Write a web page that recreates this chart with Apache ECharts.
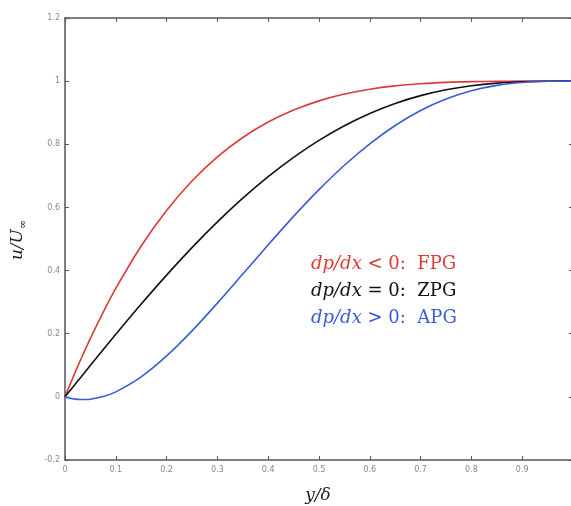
<!DOCTYPE html>
<html>
<head>
<meta charset="utf-8">
<script src="https://cdn.jsdelivr.net/npm/echarts@6/dist/echarts.min.js"></script>
<style>
  html, body { margin: 0; padding: 0; background: #fff; overflow: hidden; }
  #chart { width: 571px; height: 506px; }
</style>
</head>
<body>
<div id="chart"></div>
<script>
// Wall-normal positions y/delta
const eta = [0, 0.01, 0.02, 0.03, 0.05, 0.075, 0.1, 0.15, 0.2, 0.25, 0.3, 0.35, 0.4, 0.45,
             0.5, 0.55, 0.6, 0.65, 0.7, 0.75, 0.8, 0.85, 0.9, 0.95, 1.0];

// Velocity profiles u/U_inf
const fpg = [0, 0.0394, 0.0776, 0.1147, 0.1855, 0.2679, 0.3439, 0.4780, 0.5904, 0.6836, 0.7599,
             0.8215, 0.8704, 0.9085, 0.9375, 0.9590, 0.9744, 0.9850, 0.9919, 0.9961, 0.9984,
             0.9995, 0.9999, 1.0, 1.0];
const zpg = [0, 0.0200, 0.0400, 0.0599, 0.0998, 0.1492, 0.1981, 0.2938, 0.3856, 0.4727, 0.5541,
             0.6293, 0.6976, 0.7588, 0.8125, 0.8588, 0.8976, 0.9293, 0.9541, 0.9727, 0.9856,
             0.9938, 0.9981, 0.9998, 1.0];
const apg = [0, -0.0043, -0.0071, -0.0085, -0.0074, 0.0008, 0.0159, 0.0635, 0.1296, 0.2090, 0.2969,
             0.3890, 0.4816, 0.5716, 0.6563, 0.7335, 0.8016, 0.8596, 0.9069, 0.9434, 0.9696,
             0.9866, 0.9959, 0.9995, 1.0];

const xTicks = { min: 0, max: 1, interval: 0.1 };
const yTicks = { min: -0.2, max: 1.2, interval: 0.2 };

const RED = '#dc3a3a';
const BLACK = '#111111';
const BLUE = '#3a5ad8';

const pairs = vals => eta.map((x, i) => [x, vals[i]]);

const axisLine = { show: true, onZero: false, lineStyle: { color: '#555', width: 1.5 } };
const axisTick = { show: true, inside: true, length: 4, lineStyle: { color: '#555', width: 1 } };
const tickLabel = { fontSize: 8, color: '#888', fontFamily: 'DejaVu Sans' };

const chart = echarts.init(document.getElementById('chart'), null, { renderer: 'canvas' });

chart.setOption({
  animation: false,
  backgroundColor: '#fff',
  // the plot box runs slightly past the right edge of the canvas
  grid: { left: 65, top: 18, width: 508, bottom: 46, outerBoundsMode: 'none', containLabel: false },
  xAxis: [
    { type: 'value', position: 'bottom', ...xTicks, axisLine, axisTick,
      splitLine: { show: false },
      axisLabel: { ...tickLabel, margin: 6, showMaxLabel: false,
        formatter: v => (v >= 0.999 ? '' : String(+v.toFixed(1))) } },
    { type: 'value', position: 'top', ...xTicks, axisLine, axisTick,
      splitLine: { show: false }, axisLabel: { show: false } }
  ],
  yAxis: [
    { type: 'value', position: 'left', ...yTicks, axisLine, axisTick,
      splitLine: { show: false },
      axisLabel: { ...tickLabel, margin: 5,
        formatter: v => String(+v.toFixed(1)) } },
    { type: 'value', position: 'right', ...yTicks, axisLine, axisTick,
      splitLine: { show: false }, axisLabel: { show: false } }
  ],
  series: [
    { type: 'line', name: 'FPG', data: pairs(fpg), showSymbol: false, smooth: 0.3,
      lineStyle: { color: RED, width: 1.6 } },
    { type: 'line', name: 'ZPG', data: pairs(zpg), showSymbol: false, smooth: 0.3,
      lineStyle: { color: BLACK, width: 1.6 } },
    { type: 'line', name: 'APG', data: pairs(apg), showSymbol: false, smooth: 0.3,
      lineStyle: { color: BLUE, width: 1.6 } }
  ],
  graphic: [
    // y-axis title u/U_inf
    { type: 'text', x: 18, y: 240, rotation: Math.PI / 2,
      style: {
        text: '{i|u/U}{s|∞}',
        align: 'center', verticalAlign: 'middle',
        rich: {
          i: { fontFamily: 'DejaVu Serif', fontStyle: 'italic', fontSize: 17, fill: '#222',
               verticalAlign: 'middle', lineHeight: 22 },
          s: { fontFamily: 'DejaVu Serif', fontSize: 11, fill: '#222',
               verticalAlign: 'bottom', lineHeight: 22 }
        }
      } },
    // x-axis title y/delta
    { type: 'text', x: 318, y: 496,
      style: { text: 'y/δ', align: 'center', verticalAlign: 'middle',
        fontFamily: 'DejaVu Serif', fontStyle: 'italic', fontSize: 17, fill: '#222' } },
    // annotations
    ...[
      ['dp/dx', ' < 0:  FPG', RED, 264],
      ['dp/dx', ' = 0:  ZPG', BLACK, 291],
      ['dp/dx', ' > 0:  APG', BLUE, 318]
    ].map(([m, t, c, y]) => ({
      type: 'text', x: 311, y: y,
      style: {
        text: '{m|' + m + '}{t|' + t + '}',
        verticalAlign: 'middle',
        rich: {
          m: { fontFamily: 'DejaVu Serif', fontStyle: 'italic', fontSize: 18, fill: c },
          t: { fontFamily: 'DejaVu Serif', fontSize: 18, fill: c }
        }
      }
    }))
  ]
});
</script>
</body>
</html>
